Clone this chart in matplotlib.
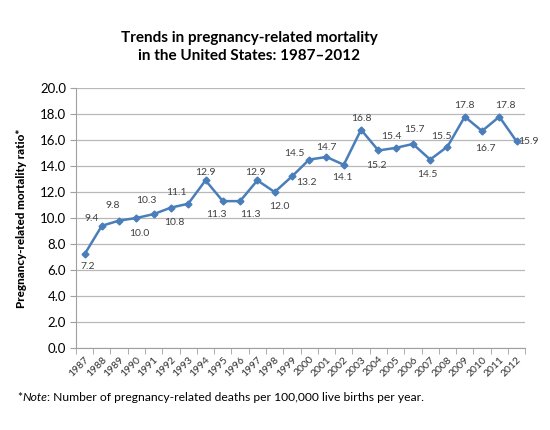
import matplotlib
matplotlib.use("Agg")
import matplotlib.pyplot as plt
from matplotlib.ticker import FixedLocator

years = list(range(1987, 2013))
ratio = [7.2, 9.4, 9.8, 10.0, 10.3, 10.8, 11.1, 12.9, 11.3, 11.3, 12.9, 12.0, 13.2,
         14.5, 14.7, 14.1, 16.8, 15.2, 15.4, 15.7, 14.5, 15.5, 17.8, 16.7, 17.8, 15.9]
# label offsets (px) from each point
label_dx = [3, -10, -6, 3, -7, 3, -12, 0, -6, 10, -2, 5, 14,
            -15, 0, -1, 0, -2, -4, 2, -3, -6, 0, 3, 6, 12]
label_dy = [-12, 7, 15, -15, 14, -15, 11, 8, -13, -13, 8, -14, -6,
            6, 9, -13, 11, -15, 11, 14, -15, 10, 11, -17, 11, 0]

plt.rcParams["font.family"] = ["Lato", "DejaVu Sans"]

fig = plt.figure(figsize=(5.5, 4.3), dpi=100)
ax = fig.add_axes([0.138, 0.191, 0.817, 0.604])

x = list(range(len(years)))
ax.plot(x, ratio, color="#4a7ebb", lw=1.8, marker="D", ms=3.5, zorder=3)
for xi, v, dx, dy in zip(x, ratio, label_dx, label_dy):
    ax.annotate(f"{v:.1f}", (xi, v), xytext=(dx * 0.72, dy * 0.72),
                textcoords="offset points", ha="center", va="center",
                fontsize=7.5, color="#404040")

ax.set_xlim(-0.5, len(years) - 0.5)
ax.set_ylim(0, 20)
ax.set_yticks([i * 2 for i in range(11)])
ax.set_yticklabels([f"{i * 2:.1f}" for i in range(11)], fontsize=9.5)
ax.set_xticks(x)
ax.set_xticklabels([str(y) for y in years], rotation=45, fontsize=7.5,
                   ha="right", rotation_mode="anchor", color="#303030")
ax.tick_params(axis="x", length=0, pad=5)
ax.xaxis.set_minor_locator(FixedLocator([i - 0.5 for i in range(len(years) + 1)]))
ax.tick_params(axis="x", which="minor", length=4, color="#a0a0a0")
ax.tick_params(axis="y", length=4, color="#a0a0a0", pad=3)
ax.grid(axis="y", color="#b8b8b8", lw=0.9)
ax.set_axisbelow(True)
for s in ["top", "right"]:
    ax.spines[s].set_visible(False)
for s in ["left", "bottom"]:
    ax.spines[s].set_color("#a0a0a0")

ax.set_ylabel("Pregnancy-related mortality ratio*", fontsize=8.4, fontweight="black")
ax.yaxis.set_label_coords(-0.109, 0.5)

fig.text(0.453, 0.891, "Trends in pregnancy-related mortality\nin the United States: 1987\u20132012",
         ha="center", va="center", fontsize=11, fontweight="bold", linespacing=1.4)

# footnote: "*Note: ..." with italic "Note"
fig.canvas.draw()
r = fig.canvas.get_renderer()
t1 = fig.text(0.031, 0.075, "*", fontsize=8.7, va="center")
w1 = t1.get_window_extent(r).width
t2 = fig.text(0.031 + w1 / 550, 0.075, "Note", fontsize=8.7, va="center", style="italic")
w2 = t2.get_window_extent(r).width
fig.text(0.031 + (w1 + w2) / 550, 0.075,
         ": Number of pregnancy-related deaths per 100,000 live births per year.",
         fontsize=8.7, va="center")

fig.savefig("out.png", dpi=100)
